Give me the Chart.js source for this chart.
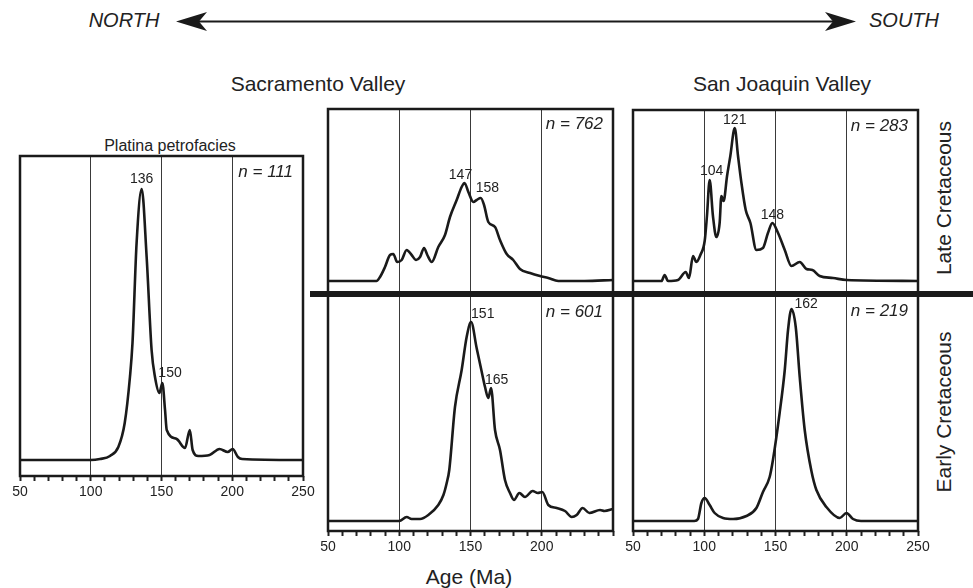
<!DOCTYPE html>
<html>
<head>
<meta charset="utf-8">
<script src="https://cdn.jsdelivr.net/npm/chart.js@4"></script>
<style>
  html, body { margin:0; padding:0; background:#fff; }
  #wrap { position:relative; width:973px; height:588px; overflow:hidden; background:#fff;
          font-family:"Liberation Sans", Arial, Helvetica, sans-serif; color:#222; }
  canvas { position:absolute; }
  .t { position:absolute; transform:translate(-50%,-50%); white-space:nowrap; line-height:1; }
  .rot { position:absolute; transform:translate(-50%,-50%) rotate(-90deg); white-space:nowrap; line-height:1; font-size:21px; }
  #divider { position:absolute; left:310px; top:291px; width:663px; height:6px; background:#1a1a1a; z-index:5; }
</style>
</head>
<body>
<div id="wrap">
  <div class="t" style="left:124px;top:20px;font-size:20px;font-style:italic;">NORTH</div>
  <div class="t" style="left:904px;top:20px;font-size:20px;font-style:italic;">SOUTH</div>
  <svg style="position:absolute;left:0;top:0" width="973" height="45">
    <line x1="196" y1="21.5" x2="835" y2="21.5" stroke="#1a1a1a" stroke-width="2.2"/>
    <path d="M176,21.5 L207,12 L199,21.5 L207,31 Z" fill="#1a1a1a"/>
    <path d="M856,21.5 L825,12 L833,21.5 L825,31 Z" fill="#1a1a1a"/>
  </svg>
  <div class="t" style="left:318px;top:83px;font-size:21px;">Sacramento Valley</div>
  <div class="t" style="left:782px;top:83px;font-size:21px;">San Joaquin Valley</div>
  <div class="t" style="left:170px;top:146px;font-size:16px;">Platina petrofacies</div>
  <div class="t" style="left:469px;top:576px;font-size:21px;">Age (Ma)</div>
  <div class="rot" style="left:943px;top:198px;">Late Cretaceous</div>
  <div class="rot" style="left:943px;top:412px;">Early Cretaceous</div>
  <div id="divider"></div>
</div>
<script>
// ---------------- DATA ----------------
// Age axis tick labels
const ticksFull = [50, 100, 150, 200, 250];
const ticksSacramento = [50, 100, 150, 200];

// Platina petrofacies (relative probability vs age, Ma)
const agesPlatina = [50, 100, 106.5, 113.6, 119.5, 124, 127.7, 129.5, 132.4, 136, 139.5, 143, 145.4, 148.5, 150.6, 152.5, 153.7, 160.7, 166.6, 170, 172, 176, 184, 191, 196.8, 200.3, 204, 207, 250];
const probPlatina = [0, 0, 1, 4, 13, 37, 83, 117, 217, 271, 203, 110, 83, 67, 77, 50, 30, 21, 12, 30, 10, 4, 5, 11, 8, 11, 3, 1, 0];
const peaksPlatina = [136, 150];

// Sacramento Valley, Late Cretaceous
const agesSacLate = [50, 84, 86.5, 90, 93.5, 95.8, 98.6, 101.7, 105.2, 108.7, 111.8, 114.6, 117.4, 119.7, 122.8, 127.4, 132.1, 135.6, 140.3, 143.8, 145.8, 148.5, 152, 154.3, 157.2, 159.5, 162.5, 167.2, 170.7, 175.4, 180, 184.7, 191.8, 198.8, 204.6, 211.6, 230, 250];
const probSacLate = [0, 0, 4, 14, 26, 27, 19, 21, 31, 26, 21, 24, 33, 26, 19, 34, 46, 64, 81, 94, 98, 89, 79, 81, 83, 76, 59, 54, 41, 27, 21, 12, 8, 5, 3, 0, 0, 1];
const peaksSacLate = [147, 158];

// Sacramento Valley, Early Cretaceous
const agesSacEarly = [50, 100, 105.2, 108.7, 114.6, 120.4, 127.4, 131, 133.3, 135.1, 139.1, 143.8, 147.3, 150.4, 154.3, 157.9, 160.2, 162.5, 164.4, 167.2, 170.7, 174.2, 177.7, 180.5, 184.3, 188.2, 193.6, 197.2, 200.4, 204.6, 210.5, 216.3, 221, 224.5, 228.7, 233.4, 240.9, 244, 250];
const probSacEarly = [0, 0, 4, 2, 2, 6, 16, 26, 38, 51, 114, 151, 184, 199, 173, 149, 134, 123, 133, 91, 71, 41, 28, 21, 28, 24, 30, 28, 29, 16, 13, 10, 4, 6, 13, 8, 11, 10, 12];
const peaksSacEarly = [151, 165];

// San Joaquin Valley, Late Cretaceous
const agesSjLate = [50, 70, 72.2, 74.6, 81.6, 87, 89.3, 92.1, 94.5, 97.3, 100.3, 101.9, 103.8, 106.1, 108.5, 110.8, 112, 113.6, 116, 118.3, 121.4, 123.7, 126.1, 129.1, 132.4, 136.6, 141.2, 144.7, 147.8, 151.8, 156.5, 161.2, 167, 171.7, 175.9, 181, 190.4, 199.8, 250];
const probSjLate = [0, 0, 6, 0, 1, 9, 3, 25, 19, 26, 40, 65, 101, 65, 44, 58, 85, 80, 105, 125, 153, 125, 98, 71, 58, 31, 33, 48, 58, 48, 31, 15, 19, 12, 11, 5, 3, 1, 0];
const peaksSjLate = [104, 121, 148];

// San Joaquin Valley, Early Cretaceous
const agesSjEarly = [50, 93, 95.6, 98, 100.3, 103.8, 107.3, 113.2, 120.2, 129.6, 136.6, 141.2, 145.9, 148.2, 152.9, 156.5, 158.8, 161.2, 164.2, 167, 170.5, 175.2, 178.7, 185.7, 195.1, 199.8, 204.4, 210, 250];
const probSjEarly = [0, 0, 2, 18, 23, 16, 8, 3, 2, 5, 13, 29, 44, 61, 108, 151, 191, 212, 194, 144, 91, 50, 31, 14, 3, 8, 2, 0, 0];
const peaksSjEarly = [162];

// sample counts
const nPlatina = 111, nSacLate = 762, nSacEarly = 601, nSjLate = 283, nSjEarly = 219;

// ---------------- LAYOUT / STYLE ----------------
const FONT = '"Liberation Sans", Arial, Helvetica, sans-serif';
Chart.defaults.font.family = FONT;
const PAD = 20, AXIS_H = 30, BOT_PAD = 4;

const panels = [
  { rect:{l:20, r:303, t:156, b:476}, axis:true, ages:agesPlatina, vals:probPlatina, yMin:-16, yMax:304,
    n:nPlatina, peaks:peaksPlatina, tickLabels:ticksFull,
    peakStyle:[{align:'center',dx:0,dy:-10},{align:'left',dx:-4,dy:-10}] },
  { rect:{l:328, r:613, t:109, b:294}, axis:false, ages:agesSacLate, vals:probSacLate, yMin:-13, yMax:172,
    n:nSacLate, peaks:peaksSacLate, tickLabels:[], nDy:15,
    peakStyle:[{align:'center',dx:-4,dy:-8},{align:'left',dx:-5,dy:-10}] },
  { rect:{l:328, r:613, t:294, b:531}, axis:true, ages:agesSacEarly, vals:probSacEarly, yMin:-10, yMax:227,
    n:nSacEarly, peaks:peaksSacEarly, tickLabels:ticksSacramento, nDy:18,
    peakStyle:[{align:'left',dx:0,dy:-8},{align:'left',dx:-6,dy:-8}] },
  { rect:{l:633, r:918, t:110, b:294}, axis:false, ages:agesSjLate, vals:probSjLate, yMin:-13, yMax:171,
    n:nSjLate, peaks:peaksSjLate, tickLabels:[], nDy:16,
    peakStyle:[{align:'center',dx:2,dy:-9},{align:'center',dx:0,dy:-8},{align:'center',dx:0,dy:-8}] },
  { rect:{l:633, r:918, t:294, b:531}, axis:true, ages:agesSjEarly, vals:probSjEarly, yMin:-10, yMax:227,
    n:nSjEarly, peaks:peaksSjEarly, tickLabels:ticksFull, nDy:17,
    peakStyle:[{align:'left',dx:3,dy:-5}] },
];

const framePlugin = {
  id: 'frame',
  afterDraw(chart, args, opts) {
    const { ctx, chartArea: a } = chart;
    const xs = chart.scales.x, ys = chart.scales.y;
    ctx.save();
    ctx.strokeStyle = '#1a1a1a';
    ctx.lineWidth = 2.5;
    ctx.strokeRect(a.left, a.top, a.right - a.left, a.bottom - a.top);
    // n label
    ctx.fillStyle = '#222';
    ctx.font = 'italic 17px ' + FONT;
    ctx.textAlign = 'right';
    ctx.textBaseline = 'middle';
    ctx.fillText('n = ' + opts.n, a.right - 10, a.top + (opts.nDy || 16));
    // peak labels, anchored at the highest data point near each labelled age
    ctx.font = '14px ' + FONT;
    const ds = chart.data.datasets[0].data;
    (opts.peaks || []).forEach((age, i) => {
      let best = null;
      ds.forEach(p => { if (Math.abs(p.x - age) <= 3 && (!best || p.y > best.y)) best = p; });
      if (!best) return;
      const st = opts.peakStyle[i] || {align:'center',dx:0,dy:-8};
      ctx.textAlign = st.align;
      ctx.fillText(String(age), xs.getPixelForValue(best.x) + st.dx, ys.getPixelForValue(best.y) + st.dy);
    });
    ctx.restore();
  }
};

const wrap = document.getElementById('wrap');
panels.forEach(p => {
  const cv = document.createElement('canvas');
  const w = (p.rect.r - p.rect.l) + 2 * PAD;
  const h = (p.rect.b - p.rect.t) + PAD + (p.axis ? AXIS_H + BOT_PAD : PAD);
  cv.width = w; cv.height = h;
  cv.style.width = w + 'px'; cv.style.height = h + 'px';
  cv.style.left = (p.rect.l - PAD) + 'px';
  cv.style.top = (p.rect.t - PAD) + 'px';
  wrap.insertBefore(cv, document.getElementById('divider'));
  const gridVals = [100, 150, 200];
  new Chart(cv, {
    type: 'line',
    data: {
      datasets: [{
        data: p.ages.map((a, i) => ({ x: a, y: p.vals[i] })),
        borderColor: '#1a1a1a',
        borderWidth: 2.6,
        pointRadius: 0,
        fill: false,
        cubicInterpolationMode: 'monotone'
      }]
    },
    options: {
      responsive: false,
      animation: false,
      devicePixelRatio: 1,
      layout: { padding: { left: PAD, right: PAD, top: PAD, bottom: p.axis ? BOT_PAD : PAD } },
      plugins: { legend: { display: false }, tooltip: { enabled: false },
                 frame: { n: p.n, nDy: p.nDy, peaks: p.peaks, peakStyle: p.peakStyle } },
      scales: {
        x: {
          type: 'linear', min: 50, max: 250,
          border: { display: false },
          grid: {
            drawOnChartArea: true,
            drawTicks: p.axis,
            tickLength: 5,
            tickWidth: 2,
            tickColor: '#222',
            lineWidth: 1,
            color: c => (c.tick && gridVals.includes(c.tick.value)) ? '#3a3a3a' : 'rgba(0,0,0,0)'
          },
          ticks: {
            display: p.axis,
            stepSize: 10,
            autoSkip: false,
            maxRotation: 0,
            padding: 3,
            color: '#222',
            font: { size: 14 },
            callback: v => p.tickLabels.includes(v) ? String(v) : ''
          },
          afterFit: s => { s.height = p.axis ? AXIS_H : 0; }
        },
        y: { display: false, min: p.yMin, max: p.yMax }
      }
    },
    plugins: [framePlugin]
  });
});
</script>
</body>
</html>
